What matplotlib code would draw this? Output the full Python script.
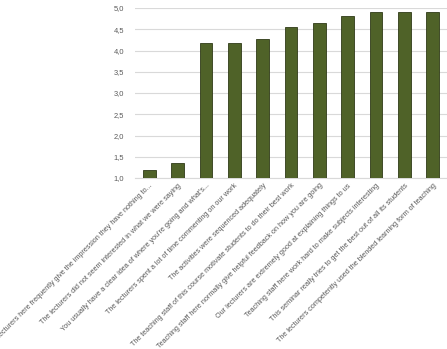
import numpy as np
import matplotlib
matplotlib.use("Agg")
import matplotlib.pyplot as plt
from matplotlib.ticker import FuncFormatter

labels = [
    "Lecturers here frequently give the impression they have nothing to...",
    "The lecturers did not seem interested in what we were saying",
    "You usually have a clear idea of where you're going and what's...",
    "The lecturers spent a lot of time commenting on our work",
    "The activities were sequenced adequately",
    "The teaching staff of this course motivate students to do their best work",
    "Teaching staff here normally give helpful feedback on how you are going",
    "Our lecturers are extremely good at explaining things to us",
    "Teaching staff here work hard to make subjects interesting",
    "This seminar really tries to get the best out of all its students",
    "The lecturers competently used the blended learning form of teaching",
]
scores = [1.18, 1.35, 4.17, 4.17, 4.26, 4.55, 4.64, 4.81, 4.91, 4.91, 4.91]

plt.rcParams['font.family'] = ['Liberation Sans', 'DejaVu Sans']

fig = plt.figure(figsize=(4.47, 3.49), dpi=100)
ax = fig.add_axes([135 / 447, 1 - 178 / 349, 312 / 447, 170 / 349])

x = np.arange(len(labels))
ax.bar(x, scores, width=0.45, bottom=0, color='#4f6228', edgecolor='#2f3a17', linewidth=0.6, zorder=3)

ax.set_ylim(1.0, 5.0)
ax.set_xlim(-0.5, len(labels) - 0.5)
ax.set_yticks(np.arange(1.0, 5.01, 0.5))
ax.yaxis.set_major_formatter(FuncFormatter(lambda v, p: f"{v:.1f}".replace('.', ',')))
ax.grid(axis='y', color='#d9d9d9', linewidth=0.8, zorder=0)
for s in ['top', 'right', 'left']:
    ax.spines[s].set_visible(False)
ax.spines['bottom'].set_color('#d9d9d9')
ax.tick_params(axis='both', length=0, colors='#595959')
ax.tick_params(axis='y', labelsize=5.4, pad=8)
ax.set_xticks(x)
ax.set_xticklabels(labels, rotation=45, ha='right', rotation_mode='anchor', fontsize=5.2, color='#595959')
ax.tick_params(axis='x', pad=3)

fig.savefig('out.png', dpi=100)
